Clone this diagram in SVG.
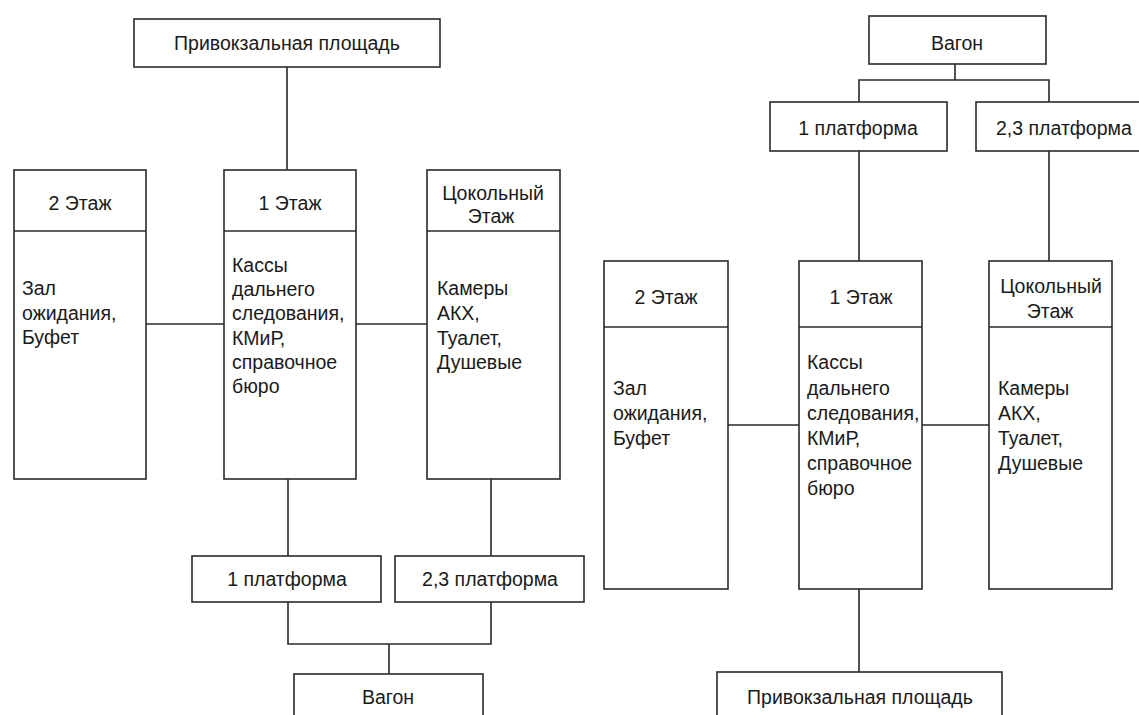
<svg xmlns="http://www.w3.org/2000/svg" width="1139" height="715" viewBox="0 0 1139 715">
<style>
.b{fill:#fff;stroke:#2a2a2a;stroke-width:1.6}
.c{fill:none;stroke:#2a2a2a;stroke-width:1.6}
text{font-family:"Liberation Sans",Arial,sans-serif;font-size:19.5px;fill:#1a1a1a}
.m{text-anchor:middle}
</style>
<rect width="1139" height="715" fill="#fff"/>
<g id="connectors">
<path class="c" d="M287 67V170M146 324H224M356 324H427M288 479V556M491 479V556M288 602V644H491V602M389 644V674"/>
<path class="c" d="M955 64V80M859 102V80H1049V102M859 151V261M1049 151V261M728 425H799M922 425H989M859 589V672"/>
</g>
<g id="L-privokzal"><rect class="b" x="134" y="19" width="306" height="48"/><text class="m" x="287" y="50">Привокзальная площадь</text></g>
<g id="L-etazh2"><rect class="b" x="14" y="170" width="132" height="309"/><path class="c" d="M14 231H146"/><text class="m" x="80" y="210">2 Этаж</text>
<text x="22" y="295">Зал</text><text x="22" y="320">ожидания,</text><text x="22" y="344">Буфет</text></g>
<g id="L-etazh1"><rect class="b" x="224" y="170" width="132" height="309"/><path class="c" d="M224 231H356"/><text class="m" x="290" y="210">1 Этаж</text>
<text x="232" y="272">Кассы</text><text x="232" y="296">дальнего</text><text x="232" y="320">следования,</text><text x="232" y="345">КМиР,</text><text x="232" y="369">справочное</text><text x="232" y="393">бюро</text></g>
<g id="L-cokol"><rect class="b" x="427" y="170" width="133" height="309"/><path class="c" d="M427 231H560"/><text class="m" x="493" y="200">Цокольный</text><text class="m" x="491" y="223">Этаж</text>
<text x="437" y="295">Камеры</text><text x="437" y="320">АКХ,</text><text x="437" y="345">Туалет,</text><text x="437" y="369">Душевые</text></g>
<g id="L-plat1"><rect class="b" x="192" y="556" width="189" height="46"/><text class="m" x="287" y="586">1 платформа</text></g>
<g id="L-plat23"><rect class="b" x="395" y="556" width="189" height="46"/><text class="m" x="490" y="586">2,3 платформа</text></g>
<g id="L-vagon"><rect class="b" x="294" y="674" width="189" height="60"/><text class="m" x="388" y="704">Вагон</text></g>
<g id="R-vagon"><rect class="b" x="869" y="16" width="177" height="48"/><text class="m" x="957" y="50">Вагон</text></g>
<g id="R-plat1"><rect class="b" x="770" y="102" width="177" height="49"/><text class="m" x="858" y="135">1 платформа</text></g>
<g id="R-plat23"><rect class="b" x="976" y="102" width="180" height="49"/><text x="996" y="135">2,3 платформа</text></g>
<g id="R-etazh2"><rect class="b" x="604" y="261" width="124" height="328"/><path class="c" d="M604 327H728"/><text class="m" x="666" y="304">2 Этаж</text>
<text x="613" y="395">Зал</text><text x="613" y="420">ожидания,</text><text x="613" y="445">Буфет</text></g>
<g id="R-etazh1"><rect class="b" x="799" y="261" width="123" height="328"/><path class="c" d="M799 327H922"/><text class="m" x="861" y="304">1 Этаж</text>
<text x="807" y="369">Кассы</text><text x="807" y="395">дальнего</text><text x="807" y="420">следования,</text><text x="807" y="445">КМиР,</text><text x="807" y="470">справочное</text><text x="807" y="495">бюро</text></g>
<g id="R-cokol"><rect class="b" x="989" y="261" width="123" height="328"/><path class="c" d="M989 327H1112"/><text class="m" x="1051" y="293">Цокольный</text><text class="m" x="1050" y="318">Этаж</text>
<text x="998" y="395">Камеры</text><text x="998" y="420">АКХ,</text><text x="998" y="445">Туалет,</text><text x="998" y="470">Душевые</text></g>
<g id="R-privokzal"><rect class="b" x="717" y="672" width="285" height="60"/><text class="m" x="860" y="704">Привокзальная площадь</text></g>
</svg>
